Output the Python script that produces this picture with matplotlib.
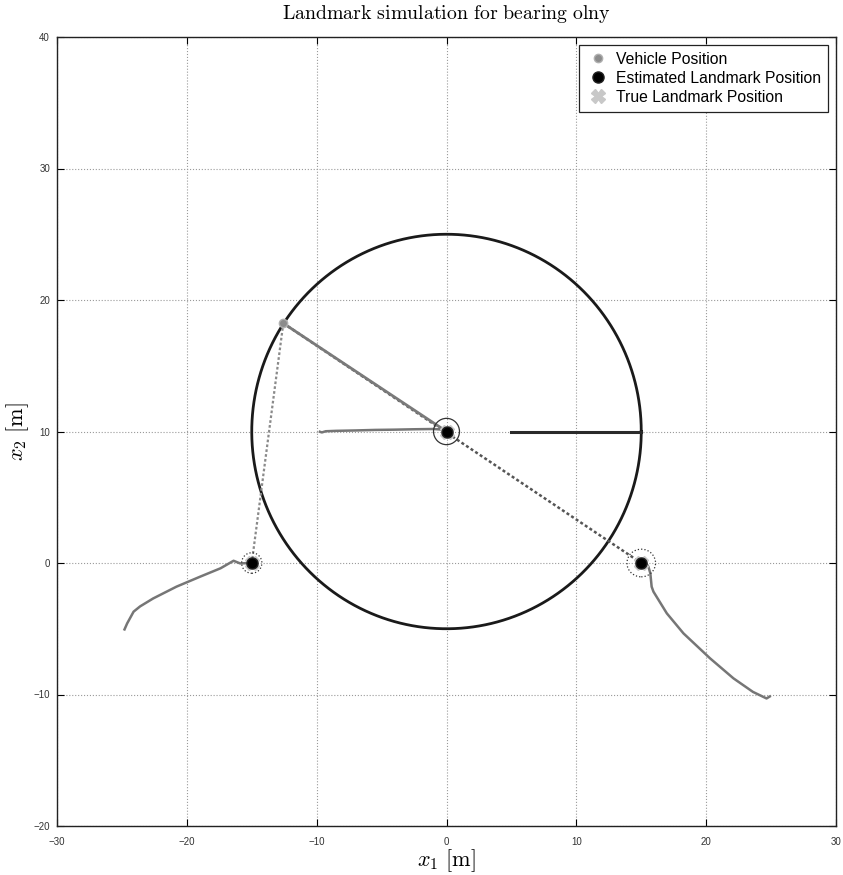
import numpy as np
import matplotlib.pyplot as plt
from matplotlib.patches import Ellipse

plt.rcParams['mathtext.fontset'] = 'cm'

# vehicle path (circle) and current vehicle position
path_center = (0.0, 10.0)
path_radius = 15.0
vehicle_pos = (-12.57, 18.23)

# estimated / true landmark positions and uncertainty radii
lm_x = [0.0, -15.0, 15.0]
lm_y = [10.0, 0.0, 0.0]
true_x = [0.0, -15.0, 15.0]
true_y = [10.0, 0.0, 0.0]
cov_rx = [1.0, 0.78, 1.1]
cov_ry = [1.0, 0.78, 1.05]
cov_style = ['-', ':', ':']

# landmark estimate histories
track1_x = [-9.75, -9.6, -9.3, -8.5, -7.0, -5.5, -4.0, -2.5, -1.0, -0.4, 0.0]
track1_y = [9.98, 9.93, 10.02, 10.05, 10.08, 10.12, 10.14, 10.17, 10.19, 10.15, 10.0]
track2_x = [-24.8, -24.6, -24.1, -23.6, -22.6, -20.8, -19.0, -17.4, -16.4, -15.9, -15.0]
track2_y = [-5.05, -4.6, -3.7, -3.3, -2.7, -1.8, -1.05, -0.4, 0.17, -0.03, 0.0]
track3_x = [24.9, 24.65, 23.6, 22.1, 20.3, 18.25, 16.97, 15.94, 15.8, 15.7, 15.55, 15.3, 15.0]
track3_y = [-10.15, -10.3, -9.8, -8.77, -7.25, -5.35, -3.83, -2.18, -1.8, -0.78, -0.28, 0.1, 0.0]

# bearing segment drawn on the right of the path centre
bearing_x = [5.0, 15.0]
bearing_y = [10.0, 10.0]

fig = plt.figure(figsize=(8.43, 8.75), dpi=100)
ax = fig.add_axes([57 / 843, 49 / 875, 779 / 843, 789 / 875])

t = np.linspace(0, 2 * np.pi, 400)
ax.plot(path_center[0] + path_radius * np.cos(t), path_center[1] + path_radius * np.sin(t),
        color='#1a1a1a', lw=2.0, zorder=3)
ax.plot(bearing_x, bearing_y, color='#2a2a2a', lw=2.2, zorder=3)

# bearing rays from the vehicle to each landmark
ax.plot([vehicle_pos[0], lm_x[2]], [vehicle_pos[1], lm_y[2]], color='#555555', lw=1.8,
        ls=(0, (1.2, 1.0)), zorder=3)
ax.plot([vehicle_pos[0], lm_x[1]], [vehicle_pos[1], lm_y[1]], color='#8a8a8a', lw=1.6,
        ls=(0, (1.2, 1.0)), zorder=3)
ax.plot([vehicle_pos[0], lm_x[0]], [vehicle_pos[1], lm_y[0]], color='#7a7a7a', lw=2.0, zorder=4)

for tx, ty in [(track1_x, track1_y), (track2_x, track2_y), (track3_x, track3_y)]:
    ax.plot(tx, ty, color='#767676', lw=1.8, zorder=4)

for x, y, rx, ry, ls in zip(lm_x, lm_y, cov_rx, cov_ry, cov_style):
    ax.add_patch(Ellipse((x, y), 2 * rx, 2 * ry, fill=False, ec='#333333', lw=0.9, ls=ls, zorder=5))

ax.plot(vehicle_pos[0], vehicle_pos[1], 'o', ms=6, mfc='#8c8c8c', mec='#b0b0b0', mew=1.0,
        ls='none', zorder=6, label='Vehicle Position')
ax.plot(true_x, true_y, 'X', ms=10, mfc='#c8c8c8', mec='#c8c8c8', ls='none', zorder=5,
        label='True Landmark Position')
ax.plot(lm_x, lm_y, 'o', ms=8, mfc='black', mec='#222222', ls='none', zorder=6,
        label='Estimated Landmark Position')

ax.set_xlim(-30, 30)
ax.set_ylim(-20, 40)
ax.set_xticks(np.arange(-30, 31, 10))
ax.set_yticks(np.arange(-20, 41, 10))
ax.grid(True, ls=':', color='#9a9a9a', lw=0.8)
ax.tick_params(direction='in', top=True, right=True, length=5, width=0.8,
               labelsize=7, labelcolor='#333333')
ax.tick_params(axis='x', pad=8)
ax.tick_params(axis='y', pad=5)
for lab in ax.get_xticklabels() + ax.get_yticklabels():
    lab.set_family('Liberation Sans')
for s in ax.spines.values():
    s.set_linewidth(1.0)
    s.set_color('#222222')

ax.set_title(r'$\mathrm{Landmark\ simulation\ for\ bearing\ olny}$', fontsize=14.3, pad=13)
ax.set_xlabel(r'$x_1\ \mathrm{[m]}$', fontsize=16, labelpad=0)
ax.set_ylabel(r'$x_2\ \mathrm{[m]}$', fontsize=16, labelpad=2)

handles, labels = ax.get_legend_handles_labels()
order = [0, 2, 1]
leg = ax.legend([handles[i] for i in order], [labels[i] for i in order], loc='upper right',
                prop={'family': 'Liberation Sans', 'size': 11.3}, fancybox=False,
                edgecolor='#222222', framealpha=1, borderpad=0.45, handletextpad=0.4,
                handlelength=1.5, labelspacing=0.25, borderaxespad=0.5)
leg.get_frame().set_linewidth(0.9)

fig.savefig('out.png', dpi=100, facecolor='white')
